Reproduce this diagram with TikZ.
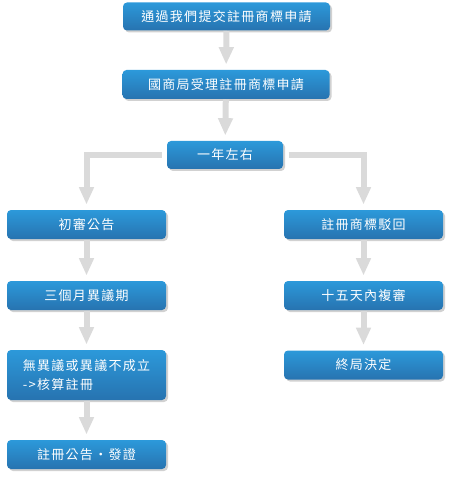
\documentclass[tikz,border=0pt]{standalone}
\usepackage{fontspec}
\newfontfamily\cjk[LetterSpace=10]{Noto Sans CJK TC}
\usetikzlibrary{arrows.meta,shadows}

\definecolor{boxtop}{RGB}{44,153,218}
\definecolor{boxbot}{RGB}{39,115,176}
\definecolor{flowgray}{RGB}{218,218,218}

\tikzset{every picture/.style={line width=0.75pt}}
\tikzset{
  stepbox/.style={rounded corners=3pt, top color=boxtop, bottom color=boxbot, draw=none,
    text=white, font=\cjk\fontsize{9.75}{14.5}\selectfont, inner sep=0pt,
    drop shadow={shadow xshift=1.5pt, shadow yshift=-1.5pt, opacity=0.3, fill=black!60}},
  widebox/.style={stepbox, minimum width=155.25pt, minimum height=21pt},
  sidebox/.style={stepbox, minimum width=119.25pt, minimum height=21.75pt},
  flow/.style={draw=flowgray, line width=4.5pt, -{Triangle[width=10.5pt,length=13pt]}, shorten >=3.75pt}
}

\begin{document}
\begin{tikzpicture}[x=0.75pt,y=0.75pt,yscale=-1,xscale=1]
\useasboundingbox (0,0) rectangle (449,477);

% Middle column
\node [widebox] (apply) at (226.5,16.5) {通過我們提交註冊商標申請};
\node [widebox, minimum height=21.75pt] (accept) at (226,84.5) {國商局受理註冊商標申請};
\node [stepbox, minimum width=87pt, minimum height=21pt] (year) at (225,155) {一年左右};

% Left column
\node [sidebox] (notice) at (86.5,224.5) {初審公告};
\node [sidebox] (objection) at (86.5,295.5) {三個月異議期};
\node [sidebox, minimum height=37.5pt, align=left] (approve) at (86.5,375) {無異議或異議不成立\\->核算註冊};
\node [sidebox] (certify) at (86.5,454.5) {註冊公告・發證};

% Right column
\node [sidebox] (reject) at (363.5,224.5) {註冊商標駁回};
\node [sidebox] (review) at (363.5,295.5) {十五天內複審};
\node [sidebox] (final) at (363.5,365) {終局決定};

% Arrows
\draw [flow] (apply) -- (accept);
\draw [flow] (accept) -- (year);
\draw [flow, shorten <=3.75pt] (year.west) -| (notice);
\draw [flow, shorten <=3.75pt] (year.east) -| (reject);
\draw [flow] (notice) -- (objection);
\draw [flow] (objection) -- (approve);
\draw [flow] (approve) -- (certify);
\draw [flow] (reject) -- (review);
\draw [flow] (review) -- (final);

\end{tikzpicture}
\end{document}
